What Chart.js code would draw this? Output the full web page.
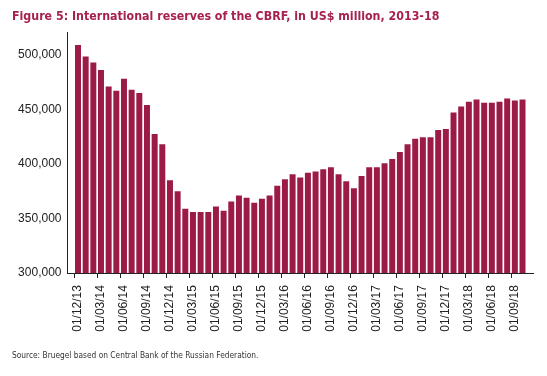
<!DOCTYPE html>
<html><head><meta charset="utf-8">
<script src="https://cdn.jsdelivr.net/npm/chart.js@4.4.1/dist/chart.umd.min.js"></script>
<style>html,body{margin:0;padding:0;background:#fff;}#wrap{width:547px;height:376px;}</style>
</head><body><div id="wrap"><canvas id="c" width="547" height="376"></canvas></div>
<script>
const categories = [
  '01/12/13','01/01/14','01/02/14','01/03/14','01/04/14','01/05/14','01/06/14','01/07/14','01/08/14','01/09/14','01/10/14','01/11/14',
  '01/12/14','01/01/15','01/02/15','01/03/15','01/04/15','01/05/15','01/06/15','01/07/15','01/08/15','01/09/15','01/10/15','01/11/15',
  '01/12/15','01/01/16','01/02/16','01/03/16','01/04/16','01/05/16','01/06/16','01/07/16','01/08/16','01/09/16','01/10/16','01/11/16',
  '01/12/16','01/01/17','01/02/17','01/03/17','01/04/17','01/05/17','01/06/17','01/07/17','01/08/17','01/09/17','01/10/17','01/11/17',
  '01/12/17','01/01/18','01/02/18','01/03/18','01/04/18','01/05/18','01/06/18','01/07/18','01/08/18','01/09/18','01/10/18'
];
const reserves = [
  509000, 498500, 493000, 486000, 471000, 467000, 478000, 468000, 465000, 454000, 427500, 418000,
  385000, 375000, 359000, 356000, 356000, 356000, 361000, 357000, 365500, 371000, 369000, 364500,
  368000, 371000, 380000, 386000, 390500, 387500, 392000, 393000, 395000, 397000, 390500, 384000,
  377700, 389000, 397000, 397000, 400500, 404500, 411000, 418000, 423000, 424500, 424500, 431000,
  432000, 447000, 452500, 457000, 459000, 456000, 456000, 457000, 460000, 458000, 459000
];
const yTicks = [300000, 350000, 400000, 450000, 500000];
const labelEvery = 3;
const titleText = 'Figure 5: International reserves of the CBRF, in US$ million, 2013-18';
const sourceText = 'Source: Bruegel based on Central Bank of the Russian Federation.';

const BAR = '#9C1B46';
const TITLE = '#A6214F';
const AXIS = '#222222';
const labelIdx = categories.map((c, i) => i).filter(i => i % labelEvery === 0);
const xMin = -1.37, xMax = categories.length - 1 + 1.37;

new Chart(document.getElementById('c'), {
  type: 'bar',
  data: {
    datasets: [{
      data: reserves.map((v, i) => ({ x: i, y: v })),
      backgroundColor: BAR,
      borderWidth: 0,
      barPercentage: 0.78,
      categoryPercentage: 1
    }]
  },
  options: {
    responsive: false,
    animation: false,
    devicePixelRatio: 1,
    layout: { padding: { left: 12, right: 14, top: 0, bottom: 0 } },
    plugins: {
      legend: { display: false },
      tooltip: { enabled: false },
      title: {
        display: true, text: titleText, align: 'start', color: TITLE,
        font: { family: "'Liberation Sans Narrow', 'DejaVu Sans Condensed', Roboto, sans-serif", size: 12.3, weight: 'bold', lineHeight: 1.2 },
        padding: { top: 9, bottom: 9.2 }
      },
      subtitle: {
        display: true, position: 'bottom', text: sourceText, align: 'start', color: '#333',
        font: { family: "'Liberation Sans Narrow', 'DejaVu Sans Condensed', Roboto, sans-serif", size: 8.3, lineHeight: 1.2 },
        padding: { top: 4, bottom: 15 }
      }
    },
    scales: {
      x: {
        type: 'linear', position: 'bottom', weight: 1, min: xMin, max: xMax, offset: false,
        afterBuildTicks: s => { s.ticks = labelIdx.map(v => ({ value: v })); },
        afterFit: s => { s.height = 69; },
        grid: { display: false, drawTicks: false, offset: false },
        border: { display: false },
        ticks: {
          autoSkip: false, minRotation: 90, maxRotation: 90, padding: 7, color: AXIS,
          font: { family: "'Liberation Sans', Arial, sans-serif", size: 12 },
          callback: v => categories[v]
        }
      },
      xt: {
        type: 'linear', position: 'bottom', weight: 0, min: xMin, max: xMax, offset: false,
        afterBuildTicks: s => { s.ticks = labelIdx.map(v => ({ value: v - 0.5 })); },
        afterFit: s => { s.height = 5; },
        grid: { display: true, drawOnChartArea: false, drawTicks: true, tickLength: 5, color: AXIS, lineWidth: 1, offset: false },
        border: { display: true, color: AXIS, width: 1 },
        ticks: { display: false }
      },
      y: {
        min: 300000, max: 520000,
        afterBuildTicks: s => { s.ticks = yTicks.map(v => ({ value: v })); },
        afterFit: s => { s.width = 55.5; },
        grid: { display: false, drawTicks: false },
        border: { display: true, color: AXIS, width: 1 },
        ticks: {
          padding: 6, color: AXIS,
          font: { family: "'Liberation Sans', Arial, sans-serif", size: 12 },
          callback: v => v.toLocaleString('en-US')
        }
      }
    }
  }
});
</script>
</body></html>
